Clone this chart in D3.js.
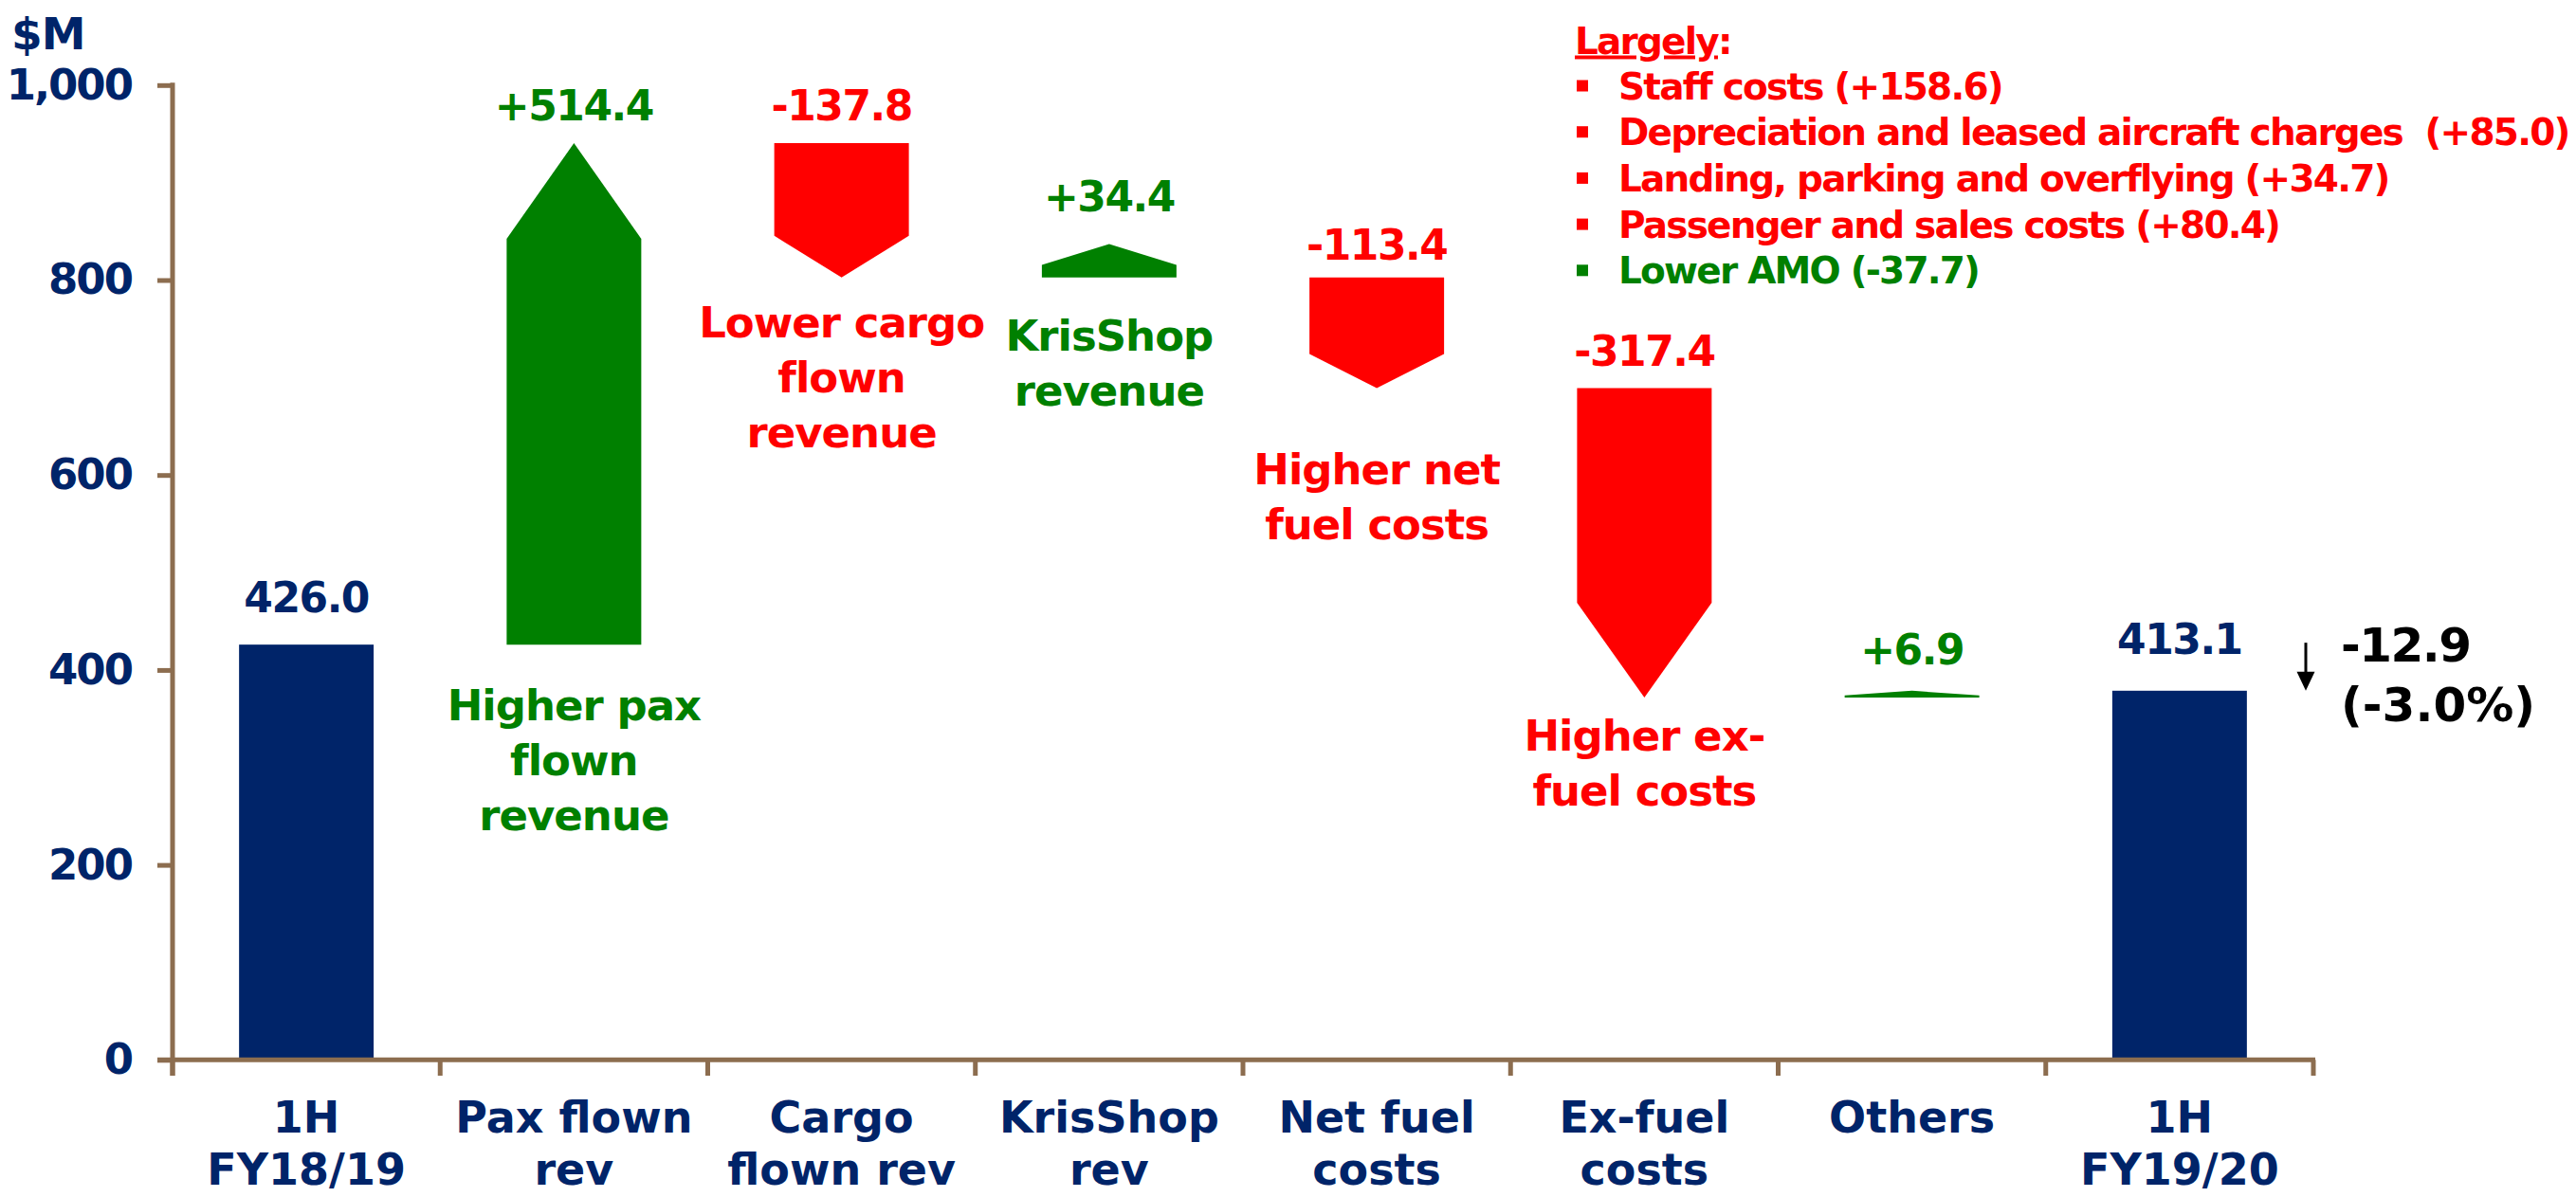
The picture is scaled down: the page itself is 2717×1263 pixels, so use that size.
<!DOCTYPE html>
<html>
<head>
<meta charset="utf-8">
<script src="https://cdn.jsdelivr.net/npm/d3@7/dist/d3.min.js"></script>
<style>
  html, body { margin: 0; padding: 0; background: #fff; }
  svg { display: block; }
  text { font-family: "DejaVu Sans", Verdana, sans-serif; font-weight: bold; white-space: pre; }
</style>
</head>
<body>
<div id="chart"></div>
<script>
// ---------- data ----------
const categories = [["1H", "FY18/19"], ["Pax flown", "rev"], ["Cargo", "flown rev"], ["KrisShop", "rev"],
                    ["Net fuel", "costs"], ["Ex-fuel", "costs"], ["Others"], ["1H", "FY19/20"]];
const kinds = ["total", "up", "down", "up", "down", "down", "up", "total"];
const deltas = [426.0, 514.4, -137.8, 34.4, -113.4, -317.4, 6.9, 413.1];
// start / end levels of each shape as drawn in the picture
const drawnFrom = [0, 426.0, 940.4, 802.6, 802.6, 689.2, 371.8, 0];
const drawnTo = [426.0, 940.4, 802.6, 837.0, 689.2, 371.8, 378.7, 378.7];
const notes = [[], ["Higher pax", "flown", "revenue"], ["Lower cargo", "flown", "revenue"], ["KrisShop", "revenue"],
               ["Higher net", "fuel costs"], ["Higher ex-", "fuel costs"], [], []];
const yTicks = [0, 200, 400, 600, 800, 1000];
const legendTitle = "Largely";
const legendItems = ["Staff costs (+158.6)", "Depreciation and leased aircraft charges  (+85.0)",
                     "Landing, parking and overflying (+34.7)", "Passenger and sales costs (+80.4)", "Lower AMO (-37.7)"];
const legendKinds = ["down", "down", "down", "down", "up"];
const changeLabel = ["-12.9", "(-3.0%)"];
const unitLabel = "$M";

// ---------- styles ----------
const W = 2717, H = 1263;
const navy = "#002469", green = "#008000", red = "#ff0000", axisCol = "#8c6d4f";
const colorOf = k => k === "total" ? navy : (k === "up" ? green : red);
const headPx = [0, 101, 44, 22, 36, 100, 5, 0];      // arrow head lengths (px)
const labelGap = [50, 40, 40, 50, 35, 39, 44, 55];   // value label centre above shape top (px)
const noteGap = [0, 64, 47, 61, 85, 40, 0, 0];       // first note line centre below shape bottom (px)

const loc = d3.formatLocale({decimal: ".", thousands: ",", grouping: [3], currency: ["$", ""], minus: "-"});
const fmtDelta = loc.format("+.1f"), fmtTotal = loc.format(".1f"), fmtTick = loc.format(",");

const svg = d3.select("#chart").append("svg").attr("width", W).attr("height", H);

const x = d3.scaleBand().domain(d3.range(categories.length)).range([182, 2440]).paddingInner(0).paddingOuter(0);
const y = d3.scaleLinear().domain([0, 1000]).range([1118.3, 89.8]);
const bw = x.bandwidth() * 0.503;
const cx = i => x(i) + x.bandwidth() / 2;

// ---------- shapes ----------
const g = svg.append("g");
deltas.forEach((d, i) => {
  const k = kinds[i];
  const left = cx(i) - bw / 2, right = cx(i) + bw / 2;
  const y0 = y(drawnFrom[i]), y1 = y(drawnTo[i]);
  if (k === "total") {
    g.append("rect").attr("x", left).attr("y", y1).attr("width", bw).attr("height", y0 - y1).attr("fill", navy);
  } else {
    const dir = y1 < y0 ? 1 : -1; // 1 -> tip above
    const ys = y1 + dir * headPx[i];
    const path = d3.path();
    path.moveTo(left, y0); path.lineTo(left, ys); path.lineTo(cx(i), y1);
    path.lineTo(right, ys); path.lineTo(right, y0); path.closePath();
    g.append("path").attr("d", path.toString()).attr("fill", colorOf(k));
  }
  // value label
  const top = Math.min(y(drawnFrom[i]), y(drawnTo[i]));
  g.append("text").attr("x", cx(i)).attr("y", top - labelGap[i]).attr("dy", "0.36em")
    .attr("text-anchor", "middle").attr("font-size", 44).attr("letter-spacing", -1.5).attr("fill", colorOf(k))
    .text(k === "total" ? fmtTotal(d) : fmtDelta(d));
  // notes
  const bottom = Math.max(y(drawnFrom[i]), y(drawnTo[i]));
  notes[i].forEach((line, j) => {
    g.append("text").attr("x", cx(i)).attr("y", bottom + noteGap[i] + j * 58).attr("dy", "0.36em")
      .attr("text-anchor", "middle").attr("font-size", 45).attr("letter-spacing", -1).attr("fill", colorOf(k)).text(line);
  });
});

// ---------- axes ----------
const yAxis = d3.axisLeft(y).tickValues(yTicks).tickFormat(fmtTick).tickSize(16).tickPadding(27);
const ya = svg.append("g").attr("transform", "translate(182,0)").call(yAxis);
ya.select(".domain").remove();
ya.selectAll(".tick line").attr("stroke", axisCol).attr("stroke-width", 5);
ya.selectAll(".tick text").attr("font-size", 45).attr("letter-spacing", -2).attr("fill", navy)
  .style("font-family", "'DejaVu Sans', Verdana, sans-serif").style("font-weight", "bold");
svg.append("line").attr("x1", 182).attr("x2", 182).attr("y1", y(1000) - 2.5).attr("y2", 1135)
  .attr("stroke", axisCol).attr("stroke-width", 5);
svg.append("line").attr("x1", 166).attr("x2", 2442).attr("y1", y(0)).attr("y2", y(0))
  .attr("stroke", axisCol).attr("stroke-width", 5);
d3.range(categories.length + 1).forEach(i => {
  const xx = i < categories.length ? x(i) : x(categories.length - 1) + x.bandwidth();
  svg.append("line").attr("x1", xx).attr("x2", xx).attr("y1", y(0)).attr("y2", 1135)
    .attr("stroke", axisCol).attr("stroke-width", 5);
});
categories.forEach((lines, i) => {
  lines.forEach((line, j) => {
    svg.append("text").attr("x", cx(i)).attr("y", 1178 + j * 55).attr("dy", "0.36em")
      .attr("text-anchor", "middle").attr("font-size", 46).attr("fill", navy).text(line);
  });
});
svg.append("text").attr("x", 12).attr("y", 52).attr("font-size", 47).attr("letter-spacing", -1).attr("fill", navy).text(unitLabel);

// ---------- legend ----------
const lg = svg.append("g");
const t = lg.append("text").attr("x", 1661).attr("y", 42.5).attr("dy", "0.36em").attr("font-size", 39)
  .attr("letter-spacing", -1.8).attr("fill", red);
t.append("tspan").style("text-decoration", "underline").text(legendTitle);
t.append("tspan").text(":");
legendItems.forEach((s, i) => {
  const yy = 90.5 + i * 48.7;
  const c = legendKinds[i] === "up" ? green : red;
  lg.append("rect").attr("x", 1663).attr("y", yy - 6).attr("width", 12).attr("height", 12).attr("fill", c);
  lg.append("text").attr("x", 1707).attr("y", yy).attr("dy", "0.36em").attr("font-size", 39)
    .attr("letter-spacing", -1.8).attr("fill", c).text(s);
});

// ---------- overall change ----------
const last = categories.length - 1;
const ax = x(last) + x.bandwidth() - 8;
const ay0 = y(drawnTo[0]), ay1 = y(drawnTo[last]);
svg.append("line").attr("x1", ax).attr("x2", ax).attr("y1", ay0 - 2).attr("y2", ay1 - 16).attr("stroke", "#000").attr("stroke-width", 3);
svg.append("path").attr("d", `M${ax - 9.5},${ay1 - 20} L${ax + 9.5},${ay1 - 20} L${ax},${ay1} Z`).attr("fill", "#000");
changeLabel.forEach((s, j) => {
  svg.append("text").attr("x", ax + 37).attr("y", ay0 + j * 63).attr("dy", "0.36em")
    .attr("font-size", 50).attr("letter-spacing", j === 0 ? -1.5 : 0).attr("fill", "#000").text(s);
});
</script>
</body>
</html>
